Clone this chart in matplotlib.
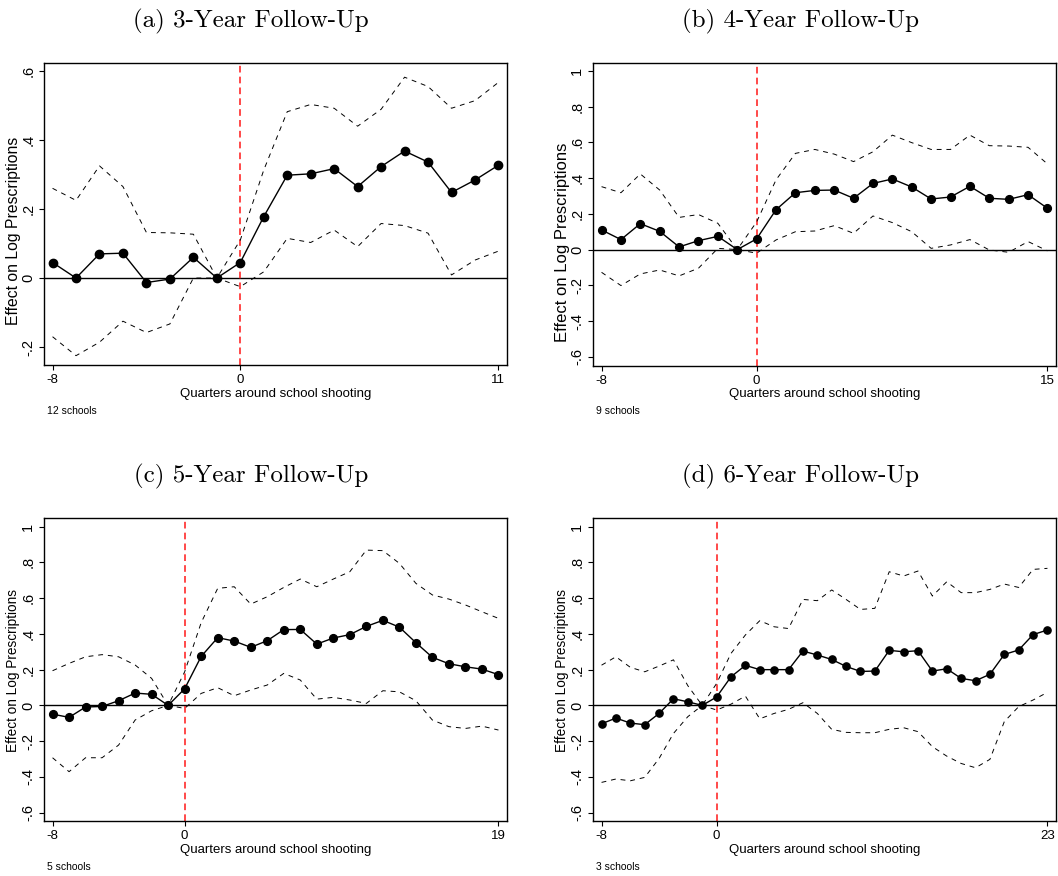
import matplotlib
matplotlib.use("Agg")
import matplotlib.pyplot as plt

# quarters relative to the shooting
q_a = list(range(-8, 12))
q_b = list(range(-8, 16))
q_c = list(range(-8, 20))
q_d = list(range(-8, 24))

# (a) 3-year follow-up, 12 schools
est_a = [0.045, 0.0, 0.07, 0.072, -0.013, -0.003, 0.06, 0.0, 0.045, 0.178,
         0.298, 0.302, 0.317, 0.265, 0.323, 0.368, 0.336, 0.248, 0.284, 0.327]
hi_a = [0.26, 0.225, 0.325, 0.265, 0.132, 0.131, 0.127, 0.0, 0.11, 0.313,
        0.482, 0.503, 0.492, 0.44, 0.489, 0.582, 0.555, 0.492, 0.514, 0.567]
lo_a = [-0.17, -0.225, -0.186, -0.125, -0.158, -0.133, 0.0, 0.0, -0.025, 0.018,
        0.115, 0.103, 0.139, 0.091, 0.158, 0.152, 0.13, 0.009, 0.052, 0.078]

# (b) 4-year follow-up, 9 schools
est_b = [0.11, 0.056, 0.145, 0.102, 0.015, 0.05, 0.074, 0.0, 0.06, 0.223,
         0.318, 0.331, 0.333, 0.287, 0.37, 0.395, 0.35, 0.283, 0.294, 0.354,
         0.287, 0.281, 0.307, 0.231]
hi_b = [0.352, 0.318, 0.423, 0.333, 0.18, 0.196, 0.147, 0.0, 0.155, 0.39,
        0.538, 0.56, 0.534, 0.492, 0.547, 0.64, 0.598, 0.56, 0.56, 0.64,
        0.581, 0.579, 0.572, 0.479]
lo_b = [-0.127, -0.201, -0.136, -0.114, -0.147, -0.104, 0.007, 0.0, -0.02, 0.054,
        0.1, 0.104, 0.134, 0.091, 0.188, 0.151, 0.1, 0.007, 0.026, 0.056,
        -0.002, -0.015, 0.045, -0.007]

# (c) 5-year follow-up, 5 schools
est_c = [-0.049, -0.067, -0.009, -0.006, 0.026, 0.069, 0.062, 0.0, 0.093, 0.274,
         0.379, 0.36, 0.325, 0.362, 0.424, 0.425, 0.343, 0.377, 0.396, 0.442,
         0.476, 0.438, 0.351, 0.269, 0.233, 0.216, 0.203, 0.172]
hi_c = [0.194, 0.235, 0.272, 0.284, 0.272, 0.226, 0.151, 0.0, 0.188, 0.463,
        0.655, 0.664, 0.567, 0.608, 0.66, 0.707, 0.664, 0.707, 0.748, 0.869,
        0.866, 0.795, 0.683, 0.618, 0.595, 0.562, 0.524, 0.487]
lo_c = [-0.293, -0.371, -0.293, -0.293, -0.222, -0.082, -0.03, 0.0, -0.017, 0.067,
        0.099, 0.054, 0.086, 0.114, 0.179, 0.142, 0.035, 0.045, 0.03, 0.011,
        0.082, 0.076, 0.026, -0.082, -0.119, -0.129, -0.116, -0.138]

# (d) 6-year follow-up, 3 schools
est_d = [-0.103, -0.071, -0.099, -0.108, -0.045, 0.037, 0.02, 0.0, 0.047, 0.16,
         0.224, 0.2, 0.2, 0.2, 0.304, 0.282, 0.257, 0.218, 0.19, 0.192,
         0.308, 0.3, 0.306, 0.192, 0.205, 0.151, 0.138, 0.174, 0.285, 0.31,
         0.396, 0.422]
hi_d = [0.225, 0.272, 0.213, 0.188, 0.22, 0.255, 0.11, 0.0, 0.123, 0.291,
        0.394, 0.474, 0.44, 0.43, 0.593, 0.586, 0.646, 0.593, 0.537, 0.543,
        0.748, 0.724, 0.752, 0.612, 0.692, 0.631, 0.631, 0.649, 0.679, 0.66,
        0.761, 0.767]
lo_d = [-0.431, -0.412, -0.422, -0.403, -0.297, -0.157, -0.063, 0.0, -0.026, 0.007,
        0.052, -0.075, -0.045, -0.022, 0.015, -0.045, -0.134, -0.151, -0.153, -0.153,
        -0.134, -0.125, -0.147, -0.231, -0.284, -0.325, -0.349, -0.302, -0.091, -0.007,
        0.03, 0.073]

titles = ["(a) 3-Year Follow-Up", "(b) 4-Year Follow-Up",
          "(c) 5-Year Follow-Up", "(d) 6-Year Follow-Up"]
notes = ["12 schools", "9 schools", "5 schools", "3 schools"]

yt_a = [-0.2, 0, 0.2, 0.4, 0.6]
ytl_a = ["-.2", "0", ".2", ".4", ".6"]
yt_bcd = [-0.6, -0.4, -0.2, 0, 0.2, 0.4, 0.6, 0.8, 1]
ytl_bcd = ["-.6", "-.4", "-.2", "0", ".2", ".4", ".6", ".8", "1"]

W, H = 1058, 876
fig = plt.figure(figsize=(W / 100, H / 100), dpi=100)
plt.rcParams['font.family'] = ['Liberation Sans', 'DejaVu Sans']

# axes boxes in pixels: left, top, right, bottom
boxes = [(44.3, 62.7, 506.7, 365), (593.3, 62.7, 1055.7, 365.5),
         (44.3, 518.3, 506.7, 821), (593.3, 518.3, 1055.7, 821)]
title_pos = [(251, 21), (800, 21), (251, 476), (800, 476)]
# y label size and vertical centre (pixels) differ a bit between panels
ylab_size = [11.3, 12.0, 9.8, 9.8]
ylab_center = [231, 242, 670, 670]

panels = [(q_a, est_a, hi_a, lo_a, yt_a, ytl_a, (-0.252, 0.624), 6.0),
          (q_b, est_b, hi_b, lo_b, yt_bcd, ytl_bcd, (-0.648, 1.045), 5.6),
          (q_c, est_c, hi_c, lo_c, yt_bcd, ytl_bcd, (-0.647, 1.047), 5.6),
          (q_d, est_d, hi_d, lo_d, yt_bcd, ytl_bcd, (-0.647, 1.047), 5.2)]

for i, (q, est, hi, lo, yt, ytl, ylim, ms) in enumerate(panels):
    l, t, r, b = boxes[i]
    ax = fig.add_axes([l / W, 1 - b / H, (r - l) / W, (b - t) / H])
    ax.axhline(0, color='k', lw=1.0, zorder=1)
    ax.axvline(0, color='#ff2a2a', lw=1.2, ls=(0, (4, 2.5)), zorder=1)
    ax.plot(q, hi, color='k', lw=0.7, ls=(0, (5, 5)), zorder=2)
    ax.plot(q, lo, color='k', lw=0.7, ls=(0, (5, 5)), zorder=2)
    ax.plot(q, est, color='k', lw=1.0, marker='o', ms=ms, zorder=3)

    pad = (q[-1] - q[0]) * 0.0185
    ax.set_xlim(q[0] - pad, q[-1] + pad)
    ax.set_ylim(*ylim)
    ax.set_xticks([q[0], 0, q[-1]])
    ax.set_xticklabels([str(q[0]), "0", str(q[-1])])
    ax.set_yticks(yt)
    ax.set_yticklabels(ytl, rotation=90, va='center')
    ax.tick_params(direction='out', length=3.6, width=0.8, pad=3)
    ax.tick_params(axis='x', labelsize=9.5)
    ax.tick_params(axis='y', labelsize=10.5)
    for s in ax.spines.values():
        s.set_linewidth(1.0)
        s.set_color('k')

    ax.set_xlabel("Quarters around school shooting", fontsize=9.5)
    ax.xaxis.set_label_coords(0.5, -29 / (b - t), transform=ax.transAxes)
    ax.xaxis.label.set_va('center')
    ax.set_ylabel("Effect on Log Prescriptions", fontsize=ylab_size[i])
    ax.yaxis.set_label_coords(-31 / (r - l), (b - ylab_center[i]) / (b - t))
    ax.yaxis.label.set_va('center')

    fig.text((l + 3) / W, 1 - (b + 46) / H, notes[i], fontsize=7.5, va='center', ha='left')
    tx, ty = title_pos[i]
    fig.text(tx / W, 1 - ty / H, titles[i], fontsize=18, family='cmr10',
             ha='center', va='center')

fig.savefig("out.png", dpi=100)
